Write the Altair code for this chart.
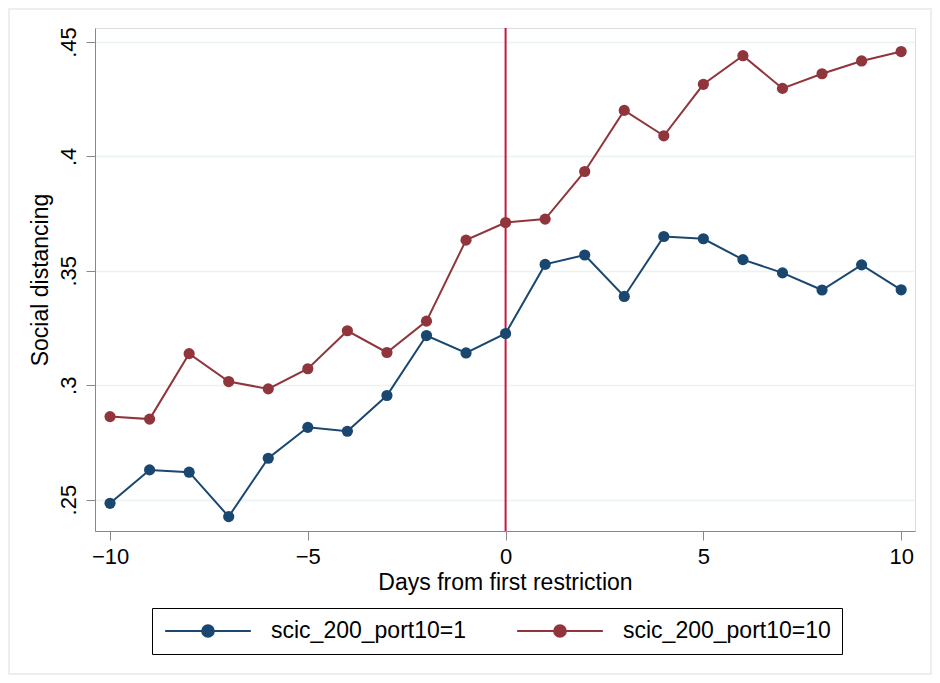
import altair as alt
import pandas as pd

days = list(range(-10, 11))
series_names = ["scic_200_port10=1", "scic_200_port10=10"]
port1 = [0.2484, 0.2630, 0.2620, 0.2426, 0.2681, 0.2816, 0.2799, 0.2955, 0.3217, 0.3141,
         0.3226, 0.3528, 0.3569, 0.3388, 0.3650, 0.3640, 0.3549, 0.3491, 0.3416, 0.3526, 0.3417]
port10 = [0.2863, 0.2852, 0.3138, 0.3016, 0.2984, 0.3072, 0.3238, 0.3143, 0.3280, 0.3634,
          0.3711, 0.3726, 0.3934, 0.4201, 0.4090, 0.4315, 0.4440, 0.4297, 0.4361, 0.4417, 0.4458]
event_day = [0]
x_ticks = [-10, -5, 0, 5, 10]
y_ticks = [0.25, 0.30, 0.35, 0.40, 0.45]
colors = ["#1a476f", "#90353b"]

rows = []
for d, a, b in zip(days, port1, port10):
    rows.append({"day": d, "value": a, "series": series_names[0]})
    rows.append({"day": d, "value": b, "series": series_names[1]})
df = pd.DataFrame(rows)
ev = pd.DataFrame({"day": event_day})

FONT = "Liberation Sans"

xscale = alt.Scale(domain=[-10.38, 10.35], nice=False, zero=False)
yscale = alt.Scale(domain=[0.2363, 0.4561], nice=False, zero=False)

x_axis = alt.Axis(values=x_ticks, format="d", title="Days from first restriction",
                  grid=False, tickSize=9, labelPadding=23, labelBaseline="alphabetic",
                  labelFontSize=22, titleFontSize=23, titleY=58, titleBaseline="alphabetic",
                  titleFontWeight="normal")
y_axis = alt.Axis(values=y_ticks, labelExpr="substring(format(datum.value, '.2~f'), 1)",
                  title="Social distancing", grid=True, gridColor="#eaf2f3", gridWidth=1.6,
                  tickSize=9, labelAngle=270, labelAlign="center", labelBaseline="alphabetic",
                  labelPadding=11, labelFontSize=22, titleFontSize=23, titleAngle=270,
                  titleX=-48, titleY=251.5, titleBaseline="alphabetic", titleAlign="center",
                  titleFontWeight="normal")

symbol_path = ("M-3.894,0L3.894,0M-0.531,0A0.531,0.531,0,1,1,0.531,0"
               "A0.531,0.531,0,1,1,-0.531,0Z")

legend = alt.Legend(
    title=None, orient="none", direction="horizontal", legendX=57, legendY=580,
    padding=11, strokeColor="black", symbolType=symbol_path, symbolSize=484,
    symbolOffset=33, labelOffset=51, symbolStrokeWidth=2, columnPadding=46,
    labelFontSize=23, labelFont=FONT, labelColor="black", labelBaseline="middle",
    labelLimit=500, symbolOpacity=1,
    labelExpr="datum.value == 'scic_200_port10=10' ? datum.label + '  ' : datum.label",
)

color = alt.Color("series:N", scale=alt.Scale(domain=series_names, range=colors),
                  legend=legend, sort=series_names)

base = alt.Chart(df)
lines = base.mark_line(strokeWidth=2).encode(
    x=alt.X("day:Q", scale=xscale, axis=x_axis),
    y=alt.Y("value:Q", scale=yscale, axis=y_axis),
    color=color,
)
points = base.mark_point(filled=True, size=125, opacity=1).encode(
    x=alt.X("day:Q", scale=xscale),
    y=alt.Y("value:Q", scale=yscale),
    color=color,
)
rule = alt.Chart(ev).mark_rule(color="#c8173f", strokeWidth=2).encode(
    x=alt.X("day:Q", scale=xscale)
)
frame = alt.Chart(ev).mark_rect(fill=None, stroke="#e3eaed", strokeWidth=1.5).encode(
    x=alt.value(-86), x2=alt.value(836), y=alt.value(-19), y2=alt.value(646)
)

chart = alt.layer(frame, rule, lines, points).properties(
    width=820, height=503,
    autosize=alt.AutoSizeParams(type="none"),
    padding={"left": 87, "top": 20, "right": 17, "bottom": 144},
).configure_view(stroke=None).configure_axis(
    labelFont=FONT, titleFont=FONT, labelColor="black", titleColor="black",
    domainColor="black", tickColor="black", domainWidth=1.4, tickWidth=1.4,
).configure(background="white")

chart.save("out.html", embed_options={"renderer": "svg", "actions": False})
